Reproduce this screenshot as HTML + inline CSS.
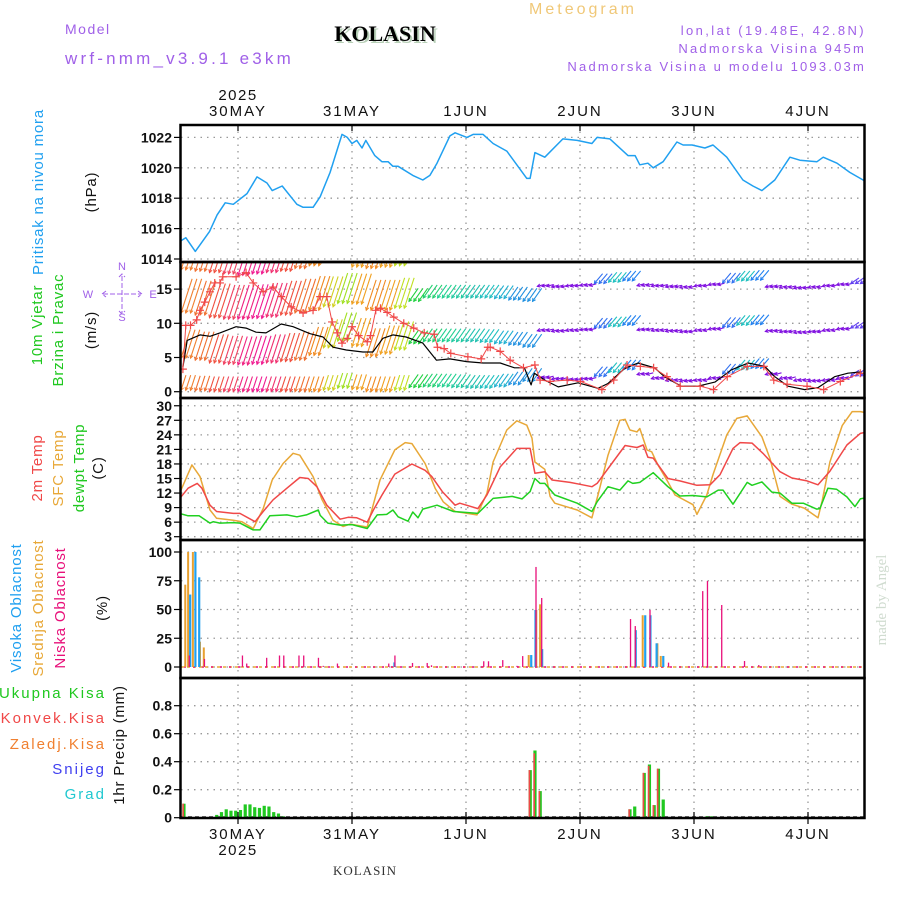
<!DOCTYPE html>
<html><head><meta charset="utf-8"><style>
html,body{margin:0;padding:0;background:#fff;}
svg{display:block;font-family:"Liberation Sans",sans-serif;}
</style></head><body>
<svg id="c" width="900" height="900" viewBox="0 0 900 900" xmlns="http://www.w3.org/2000/svg">
<defs>
<clipPath id="cpP"><rect x="181" y="126" width="683" height="135"/></clipPath>
<clipPath id="cpW"><rect x="181" y="263" width="683" height="134"/></clipPath>
<clipPath id="cpT"><rect x="181" y="399" width="683" height="140"/></clipPath>
<clipPath id="cpC"><rect x="181" y="541" width="683" height="136"/></clipPath>
<clipPath id="cpR"><rect x="181" y="679" width="683" height="138"/></clipPath>
</defs>
<g>
<text x="583" y="14" font-size="16" fill="#f0c878" text-anchor="middle" letter-spacing="3">Meteogram</text>
<text x="65" y="34" font-size="14" fill="#a060e8" letter-spacing="1.5">Model</text>
<text x="65" y="64" font-size="17" fill="#a060e8" letter-spacing="3.2">wrf-nmm_v3.9.1 e3km</text>
<text x="387" y="43" font-size="22" font-weight="bold" font-family="Liberation Serif,serif" fill="#b8d0b8" text-anchor="middle">KOLASIN</text>
<text x="385" y="41" font-size="22" font-weight="bold" font-family="Liberation Serif,serif" fill="#000" text-anchor="middle">KOLASIN</text>
<text x="866" y="35" font-size="13" fill="#a060e8" text-anchor="end" letter-spacing="2.4">lon,lat (19.48E, 42.8N)</text>
<text x="866" y="53" font-size="13" fill="#a060e8" text-anchor="end" letter-spacing="2.2">Nadmorska Visina 945m</text>
<text x="866" y="71" font-size="13" fill="#a060e8" text-anchor="end" letter-spacing="2.2">Nadmorska Visina u modelu 1093.03m</text>
</g>
<g id="grid"></g>
<g id="series"></g>
<g id="frame"></g>
<g id="labels"></g>
</svg>
<script>
// ---------- data ----------
const dayLabels = ["30MAY","31MAY","1JUN","2JUN","3JUN","4JUN"];
const yearLabel = "2025";
const presHours = [-12,-11,-9,-6,-4.4,-2.7,-1,1.9,4,6.1,7.2,9.3,12.4,13.7,15.8,17.3,19.4,21.9,23,24,25,26.1,26.9,28.8,30.3,31.6,32.6,33.7,36.8,38.9,40.4,41.9,44.6,45.7,48.2,49.5,51.6,53.7,56.6,60.8,61.5,62.5,64.6,68.4,71.4,74.5,75.6,78.3,82.1,83.6,84.6,86.3,87.4,89.5,92.4,93.7,95.6,98.3,100,102.9,106.3,108.4,110.3,113,116.2,118.3,121.9,123.2,126.1,128.8,131.6,132];
const presVals = [1015.2,1015.4,1014.5,1015.8,1016.9,1017.7,1017.6,1018.3,1019.4,1019.0,1018.5,1018.8,1017.6,1017.4,1017.4,1018.1,1019.7,1022.2,1022.0,1021.6,1021.8,1021.3,1021.8,1020.8,1020.4,1020.4,1020.1,1020.1,1019.5,1019.2,1019.5,1020.3,1022.1,1022.3,1022.0,1022.2,1022.2,1021.6,1021.1,1019.3,1019.3,1021.0,1020.7,1021.9,1021.8,1021.6,1022.0,1021.9,1020.8,1020.8,1020.2,1020.3,1020.0,1020.4,1021.7,1021.5,1021.5,1021.3,1021.5,1020.7,1019.2,1018.8,1018.5,1019.2,1020.7,1020.5,1020.4,1020.7,1020.3,1019.7,1019.2,1019.1];
const presTicks = [1014,1016,1018,1020,1022];

const t2Hours = [-12,-10.5,-8.6,-7.6,-5.9,-4.5,-1,0.4,3.6,5.3,7.4,10.3,13,14.8,16.6,18.7,21.5,23.2,25,27.2,28.5,30.5,33,36.6,39.4,40.8,43,45.7,46.7,50.5,52.4,55.2,58.7,61.5,62.5,64.6,66.1,69.9,72,74.5,75.6,78.7,81.5,84,85.3,86.3,87.4,90.5,93,96.6,99.4,101.5,104.2,105.7,108.2,110.5,114.1,116.6,119.8,122.1,124.6,128.2,131,132];
const t2Vals = [11.2,13,14,13,9.5,8.2,7.8,7.8,6.1,8.2,10.6,13,15.2,15,13.3,9.5,6.6,7.0,6.9,6,8.5,11.9,15.9,18,16.7,15.4,12.3,9.5,9.9,8.8,11.6,17.4,21.2,21.2,16.1,16.4,14.7,14.2,13.8,13.3,14,18.1,21.8,21.4,21.9,19.4,19.2,15,14.5,13.6,13.7,15.8,21.2,22.4,22.3,20.2,16.4,15.1,14.5,13.7,16.5,21.9,24.3,24.5];
const sfcHours = [-12,-9.7,-8,-5.9,-4.5,-1,0.8,3.2,5.3,7.2,9.5,11.6,13,15.8,17.7,20,22.1,23.6,27.2,29.9,33,35.2,36.6,39.4,41.5,43.2,45.7,50.3,52.4,53.7,56.6,58.7,60.8,61.9,62.5,64.6,65.7,66.7,71.4,74.5,75.8,77.9,80.4,81.5,82.5,84,84.6,86.1,87.1,88.4,90.5,92,95.8,96.6,98.7,100,102.9,105,107.2,110.3,112,114.1,116.6,119.2,122.1,123,124.6,127.2,129.3,131,132];
const sfcVals = [12.6,17.8,15.4,8.5,6.8,6.4,6.1,4.7,8.8,14.7,18.1,20.2,19.8,15.4,10.6,6.4,5.1,5.6,5,14.7,20.9,22.4,22.2,18.1,13,10.2,8.2,7.5,11.9,18.4,25,26.9,26,23.3,18.4,16.9,11.3,9.9,8.5,6.9,11.6,19.8,27,27.2,25,24.6,25.3,20.9,20.5,17.8,14.3,11.6,9.6,7.6,11.6,15.8,24,27.4,27.9,23.6,19.1,11.3,9.7,8.9,6.9,10.5,18.4,25.9,28.8,28.8,28.6];
const dewHours = [-12,-10.5,-8.2,-5.9,-5.2,-3.8,-1,0.4,3.2,4.6,6.7,10.3,12.4,14.4,16.9,17.3,18.9,21.5,24,27.2,29.3,31.3,32.6,33.7,35.8,36.8,37.9,38.9,41.9,45.4,50.5,53.7,57.7,59.8,61.5,62.5,63.6,64.6,66.7,71.4,74.5,75.6,77.9,80.4,82.1,83.1,84.6,87.4,90.5,93,95.8,98.7,101.1,102.1,104.2,107.2,108.2,110.3,112.4,114.1,116.6,119,121.8,122.5,124.2,126,128.2,129.9,131,132];
const dewVals = [7.7,7.3,7.3,5.8,6.1,5.8,5.9,5.8,4.4,4.4,7.3,7.5,7.1,7.5,8.5,7.4,5.8,5.4,5.5,4.7,7.5,7.6,8.5,7.1,6.2,8.1,6.9,8.7,9.5,8.2,7.8,10.9,11.3,10.8,12.3,15,14,14,11.6,9.9,8.2,10.2,13.3,12.6,14.5,14,14.2,16.2,13.3,11.4,11.5,11.2,12.6,12.6,9.7,14.2,13.6,14.3,12.2,12,9.9,9.9,8.7,8.8,13,12.8,11.2,9.2,10.8,11];
const tempTicks = [3,6,9,12,15,18,21,24,27,30];

const windHourStep = 3;
const windColors = ['#f08030','#f07030','#f05040','#f04060','#f02080','#f01890','#f03070','#f05040','#f07030','#f08a20','#d0d020','#a0e020','#f0a020','#f08a20','#f0a020','#c0e020','#20d040','#20d070','#20d090','#20c8a0','#20c0b0','#20c0c0','#20b0d0','#2090e0','#2090e0','#8010e0','#8010e0','#8010e0','#8010e0','#3070f0','#20c0c0','#2080f0','#8010e0','#8010e0','#8010e0','#8010e0','#8010e0','#8010e0','#3070f0','#20c0c0','#2080f0','#8010e0','#8010e0','#8010e0','#8010e0','#8010e0','#8010e0','#6040f0','#4060f0'];
const windLens = [36,36,36,36,36,36,36,36,36,36,32,32,32,32,32,32,16,16,16,16,16,16,16,16,16,7,7,7,7,13,13,13,7,7,7,7,7,7,13,13,13,7,7,7,7,7,7,10,10];
const windAngles = [72,72,72,72,72,72,72,72,72,72,72,72,72,72,72,72,55,55,55,55,55,55,55,55,55,15,15,15,15,50,50,50,15,15,15,15,15,15,50,50,50,15,15,15,15,15,15,35,35];
const windLevel1 = [17.8,17.6,17.4,17.2,17.0,17.2,17.4,17.6,18.0,18.4,null,null,18.2,18.0,18.2,18.4,null,null,null,null,null,null,null,null,null,null,null,null,null,null,null,null,null,null,null,null,null,null,null,null,null,null,null,null,null,null,null,null,null];
const windLevel2 = [11.5,11.2,10.8,10.6,10.6,10.7,10.9,11.2,11.5,11.9,12.4,12.9,12.8,11.9,11.9,12.2,13.2,13.7,13.7,13.7,13.7,13.7,13.6,13.4,13.2,15.4,15.3,15.4,15.5,15.8,16.0,16.2,15.5,15.4,15.3,15.2,15.4,15.6,15.9,16.2,16.3,15.3,15.2,15.1,15.2,15.4,15.6,15.8,16.0];
const windLevel3 = [4.9,4.6,4.2,4.0,3.9,4.0,4.2,4.4,4.6,5.3,6.4,7.4,6.6,5.1,5.5,6.1,7.0,7.3,7.3,7.3,7.3,7.2,7.0,6.8,6.5,8.9,8.8,8.9,9.0,9.3,9.5,9.7,9.0,8.9,8.8,8.7,8.9,9.1,9.4,9.7,9.8,8.8,8.7,8.6,8.7,8.9,9.1,9.3,9.5];
const windLevel4 = [0.2,0.1,0,0,0,0,0,0,0,0,0.2,0.5,0.3,0,0,0.2,0.6,0.7,0.7,0.6,0.5,0.5,0.7,1.0,1.5,2.0,1.8,1.7,1.8,2.2,2.8,3.2,2.5,1.9,1.6,1.5,1.6,1.9,2.6,3.2,3.4,2.5,1.9,1.6,1.5,1.6,1.9,2.3,2.5];
const speedHours = [-11.6,-10.7,-8,-5.9,-3.8,-0.4,1.7,3.8,5.9,9.1,11.6,15.1,17.9,20,22.8,26.3,28.4,30.5,32.6,35.4,38.9,41.8,44.6,48.1,51.6,55.2,58.2,60.3,61.7,62.4,64.6,67.4,71.6,75.8,77.9,81.4,84.2,87.7,89.8,93.3,96.8,100.4,103.9,107.4,110.9,113,115.8,119.3,122.1,125.6,128.4,131.2];
const speedVals = [3.6,7.5,8.3,8.1,8.6,9.5,9.3,8.7,8.6,9.9,9.5,8.5,8,6.5,6.1,5.8,5.8,7.8,8.3,8,7.1,4.6,4.8,4.4,4.2,4.2,3.5,3.5,1,2.7,1.7,0.7,1.3,0.5,1.2,3.4,4.2,3.5,2.2,0.8,0.8,1.4,3.2,4.2,3.7,2.2,0.8,0.3,0.6,2.2,2.7,2.9];
const gustHours = [-11.6,-11,-10,-8.7,-8,-7,-5.9,-4.9,-3.8,-3.2,-0.4,1.7,3.2,5.3,7.4,9.1,11.2,13.7,15.8,17.3,18.7,19.8,20.9,21.9,23,24,25.4,27.2,27.9,29,30,31.4,32.8,34.9,37,39.2,41.3,42,43.4,44.8,48.4,51.2,52.6,53.1,55.2,57.3,60.1,62.5,63.6,65.7,69.3,72.1,76.6,79.1,81.9,84.7,87.5,90.3,93.1,97.3,100.1,103,107.2,110.7,112.8,115.6,119.8,123.3,126.8,131];
const gustVals = [3.3,9.7,9.7,10.5,11.9,13.1,14.6,15.9,15.9,16.8,16.8,17.4,15.9,14.6,15.3,13.9,12.4,11.5,11.9,13.9,13.9,10.2,8.6,7.1,7.8,9.5,8.2,7.3,8.2,11.9,12.2,11.6,10.9,10,9.3,8.6,8.4,6.5,6.3,5.6,5.1,4.8,6.5,6.5,5.9,4.6,3.5,3.9,1.7,1.5,1.7,1.5,0.3,1.7,3.9,3.7,3.5,2.2,0.8,0.8,0.3,2.2,3.7,3.7,1.7,1.1,0.8,0.3,1.5,2.7];
const windTicks = [0,5,10,15];

const highCloudHours = [-10.3,-9.2,-8.4,32.7,61.5,62.4,63.8,83.5,85.5,86.6,87.9,89.3];
const highCloudVals = [63,100,78,4,10.4,49.6,15.6,32,45,45,20.6,9.6];
const midCloudHours = [-11.1,-10.5,-9.5,-8.0,-7.2,61.2,62.8,63.6,83.7,85.2,88.3,89.0];
const midCloudVals = [71.6,100,100,22,17,10.4,49.6,54.5,32,45,20.6,9.6];
const lowCloudHours = [-10.4,-7.2,0.8,1.7,5.9,8.6,9.5,12.7,13.7,16.8,17.8,20.8,31.6,32.9,36.6,39.7,40.6,51.6,52.6,55.6,58.6,59.8,62.6,63.8,82.5,83.5,86.6,90.5,97.7,98.7,101.7,106.5,109.5];
const lowCloudVals = [10,7,10,3,8,10,10,10,10,8,1,3,3,10,3.5,3.5,1.5,5,5,6,1,9.5,87,60,41.7,35.6,49.6,3.8,66,74.8,53.9,5.2,1.7];
const cloudTicks = [0,25,50,75,100];

const precipHours = [-11.4,-4.5,-3.5,-2.5,-1.5,-0.5,0.5,1.5,2.5,3.5,4.5,5.5,6.5,7.5,8.5,9.5,61.5,62.5,63.6,82.5,83.5,85.5,86.6,87.6,88.5,89.5,98.7,99.7];
const totalPrecip = [0.10,0.02,0.04,0.06,0.05,0.05,0.055,0.095,0.095,0.075,0.07,0.085,0.08,0.04,0.03,0.01,0.34,0.48,0.19,0.06,0.08,0.32,0.38,0.09,0.35,0.13,0.01,0.01];
const convPrecip = [0.10,0,0,0,0,0,0,0,0,0,0,0,0,0,0,0,0.34,0.46,0.19,0.06,0,0.32,0.37,0.09,0.35,0,0,0];
const precipTicks = [0,0.2,0.4,0.6,0.8];

// ---------- scales ----------
const X0 = 181, XPD = 4.75, H0 = -12;
function xS(h){ return X0 + (h - H0) * XPD; }
function yP(v){ return 259 - (v - 1014) * 15.2; }
function yW(v){ return 391.7 - v * 6.84; }
function yT(v){ return 536.7 - (v - 3) * 4.85; }
function yC(v){ return 667 - v * 1.15; }
function yR(v){ return 817.7 - v * 140; }

const NS = "http://www.w3.org/2000/svg";
function mk(parent, tag, attrs, text){
  const e = document.createElementNS(NS, tag);
  for (const k in attrs) e.setAttribute(k, attrs[k]);
  if (text !== undefined) e.textContent = text;
  parent.appendChild(e);
  return e;
}
const G = document.getElementById('grid');
const S = document.getElementById('series');
const F = document.getElementById('frame');
const L = document.getElementById('labels');

const panels = [
  {name:'pressure', top:125, bot:262, ticks:presTicks, y:yP, fmt:v=>String(v)},
  {name:'wind', top:262, bot:398, ticks:windTicks, y:yW, fmt:v=>String(v)},
  {name:'temperature', top:398, bot:540, ticks:tempTicks, y:yT, fmt:v=>String(v)},
  {name:'cloud', top:540, bot:678, ticks:cloudTicks, y:yC, fmt:v=>String(v)},
  {name:'precip', top:678, bot:818, ticks:precipTicks, y:yR, fmt:v=>v===0?'0':v.toFixed(1)}
];
const dayHours = [0,24,48,72,96,120];

panels.forEach(p => {
  dayHours.forEach((d,i) => {
    const l = mk(G,'line',{x1:xS(d),x2:xS(d),y1:p.top,y2:p.bot,stroke:'#999','stroke-width':1.3,'stroke-dasharray':'1.5,5'});
    
    
  });
  p.ticks.forEach(t => {
    const y = p.y(t);
    const l = mk(G,'line',{x1:181,x2:864,y1:y,y2:y,stroke:'#999','stroke-width':1.3,'stroke-dasharray':'1.5,5'});
    
    
    mk(F,'line',{x1:174,x2:181,y1:y,y2:y,stroke:'#000','stroke-width':1.2});
    const tx = mk(L,'text',{x:172,y:y+5,'font-size':14,'font-weight':'bold','text-anchor':'end',fill:'#111'}, p.fmt(t));
    
    
  });
  const r = mk(F,'rect',{x:180.5,y:p.top,width:684,height:p.bot-p.top,fill:'none',stroke:'#000','stroke-width':2.5});
  
  
});

// day labels top and bottom
dayHours.forEach((d,i) => {
  const x = xS(d);
  mk(F,'line',{x1:x,x2:x,y1:125,y2:131,stroke:'#000','stroke-width':1.2});
  mk(F,'line',{x1:x,x2:x,y1:812,y2:824,stroke:'#000','stroke-width':1.2});
  const t1 = mk(L,'text',{x:x,y:116,'font-size':15,'text-anchor':'middle','letter-spacing':2,fill:'#111'}, dayLabels[i]);
  
  
  const t2 = mk(L,'text',{x:x,y:839,'font-size':15,'text-anchor':'middle','letter-spacing':2,fill:'#111'}, dayLabels[i]);
  
  
});
{
  const y1 = mk(L,'text',{x:xS(0),y:100,'font-size':15,'text-anchor':'middle','letter-spacing':1.5,fill:'#111'}, yearLabel);
  
  
  const y2 = mk(L,'text',{x:xS(0),y:855,'font-size':15,'text-anchor':'middle','letter-spacing':1.5,fill:'#111'}, yearLabel);
  
  
}

function polyline(hs, vs, yf, color, clip, name, w){
  const pts = hs.map((h,i)=> xS(h).toFixed(1)+','+yf(vs[i]).toFixed(1)).join(' ');
  const pl = mk(S,'polyline',{points:pts,fill:'none',stroke:color,'stroke-width':w||1.4,'clip-path':'url(#'+clip+')','stroke-linejoin':'round'});
  
  
  return pl;
}

// pressure
polyline(presHours, presVals, yP, '#20a0f0', 'cpP', 'pressure-line', 1.5);

// wind vectors
const WG = mk(S,'g',{'clip-path':'url(#cpW)'});


const levels = [windLevel1, windLevel2, windLevel3, windLevel4];
const levelCaps = [40, 40, 30, 16];
levels.forEach((lev, li) => {
  lev.forEach((base, i) => {
    if (base === null) return;
    const h = H0 + i * windHourStep;
    const len = Math.min(windLens[i], levelCaps[li]);
    const a = windAngles[i] * Math.PI / 180;
    const dx = len * Math.cos(a), dy = len * Math.sin(a);
    for (let k = 0; k < 3; k++) {
      const x = xS(h + k), y = yW(base);
      const ln = mk(WG,'line',{x1:x,y1:y,x2:x+dx,y2:y-dy,stroke:windColors[i],'stroke-width':1.1});
      
      
      const hl = 3.5, a1 = a + 0.5, a2 = a - 0.5;
      mk(WG,'path',{d:`M${x+hl*Math.cos(a1)},${y-hl*Math.sin(a1)} L${x},${y} L${x+hl*Math.cos(a2)},${y-hl*Math.sin(a2)}`,fill:'none',stroke:windColors[i],'stroke-width':1});
    }
  });
});
polyline(speedHours, speedVals, yW, '#000', 'cpW', 'wind-speed-line', 1.2);
polyline(gustHours, gustVals, yW, '#f04848', 'cpW', 'wind-gust-line', 1);
gustHours.forEach((h,i) => {
  const x = xS(h), y = yW(gustVals[i]);
  const m = mk(S,'path',{d:`M${x-4},${y}H${x+4}M${x},${y-4}V${y+4}`,stroke:'#f04848','stroke-width':1.2,'clip-path':'url(#cpW)'});
  
  
});

// temperatures
polyline(sfcHours, sfcVals, yT, '#e8a838', 'cpT', 'sfc-temp-line', 1.5);
polyline(t2Hours, t2Vals, yT, '#f04848', 'cpT', 'temp-2m-line', 1.5);
polyline(dewHours, dewVals, yT, '#20d020', 'cpT', 'dewpoint-line', 1.5);

// cloud
mk(S,'line',{x1:181,x2:864,y1:667,y2:667,stroke:'#e8a838','stroke-width':1.5,'stroke-dasharray':'3,3'});
mk(S,'line',{x1:184,x2:864,y1:667,y2:667,stroke:'#e8107a','stroke-width':1.5,'stroke-dasharray':'2,7'});
function cloudBars(hs, vs, color, off, name, w){
  hs.forEach((h,i) => {
    const x = xS(h) + off, y = yC(vs[i]);
    const r = mk(S,'rect',{x:x,y:y,width:w,height:667-y,fill:color,'clip-path':'url(#cpC)'});
    
    
  });
}
cloudBars(midCloudHours, midCloudVals, '#e8a030', -1, 'mid-cloud-bar', 2);
cloudBars(highCloudHours, highCloudVals, '#20a0f0', 0, 'high-cloud-bar', 2.2);
cloudBars(lowCloudHours, lowCloudVals, '#e8107a', 0, 'low-cloud-bar', 1.3);

// precipitation
mk(S,'line',{x1:181,x2:864,y1:817,y2:817,stroke:'#333','stroke-width':1.5,'stroke-dasharray':'4,3'});
precipHours.forEach((h,i) => {
  const x = xS(h);
  const yt = yR(totalPrecip[i]);
  const g = mk(S,'rect',{x:x-1.5,y:yt,width:3.2,height:817.7-yt,fill:'#20c820','clip-path':'url(#cpR)'});
  
  
  if (convPrecip[i] > 0) {
    const yc = yR(convPrecip[i]);
    const r = mk(S,'rect',{x:x-1.5,y:yc,width:1.6,height:817.7-yc,fill:'#f04848','clip-path':'url(#cpR)'});
    
    
  }
});

// axis titles
function vtext(x, y, txt, color, name, size){
  const t = mk(L,'text',{x:0,y:0,transform:`translate(${x},${y}) rotate(-90)`,'font-size':size||15,'text-anchor':'middle','letter-spacing':0.8,fill:color}, txt);
  
  
}
vtext(43, 192, 'Pritisak na nivou mora', '#20a0f0', 'pressure-axis-title');
vtext(96, 192, '(hPa)', '#111', 'pressure-unit');
vtext(42, 325, '10m Vjetar', '#20c820', 'wind-axis-title');
vtext(63, 330, 'Brzina i Pravac', '#20c820', 'wind-axis-subtitle');
vtext(96, 330, '(m/s)', '#111', 'wind-unit');
vtext(42, 468, '2m Temp', '#f04848', 'temp-2m-title');
vtext(63, 468, 'SFC Temp', '#e8a838', 'sfc-temp-title');
vtext(84, 468, 'dewpt Temp', '#20c820', 'dewpoint-title');
vtext(103, 468, '(C)', '#111', 'temp-unit');
vtext(21, 608, 'Visoka Oblacnost', '#20a0f0', 'high-cloud-title');
vtext(43, 608, 'Srednja Oblacnost', '#e8a838', 'mid-cloud-title');
vtext(65, 608, 'Niska Oblacnost', '#e8107a', 'low-cloud-title');
vtext(107, 608, '(%)', '#111', 'cloud-unit');
vtext(124, 745, '1hr Precip (mm)', '#111', 'precip-axis-title');
const plabels = [['Ukupna Kisa','#20c820',698,'total-precip-legend'],['Konvek.Kisa','#f04848',723,'conv-precip-legend'],['Zaledj.Kisa','#f08030',749,'freezing-precip-legend'],['Snijeg','#4040f0',774,'snow-legend'],['Grad','#20c8d0',799,'hail-legend']];
plabels.forEach(p => {
  const t = mk(L,'text',{x:106,y:p[2],'font-size':15,'text-anchor':'end','letter-spacing':2,fill:p[1]}, p[0]);
  
  
});
// compass
const cp = '#a060e8';
[['N',122,270],['S',122,321],['W',88,298],['E',153,298]].forEach(c => {
  const t = mk(L,'text',{x:c[1],y:c[2],'font-size':11,'text-anchor':'middle',fill:cp}, c[0]);
  
  
});
mk(L,'path',{d:'M106,291 L102,294 L106,297 M138,291 L142,294 L138,297 M119,277 L122,274 L125,277 M119,311 L122,314 L125,311 M103,294 H141 M122,276 V313',stroke:cp,'stroke-width':1,fill:'none','stroke-dasharray':'5,2'});
// footer
{
  const t = mk(L,'text',{x:365,y:875,'font-size':13,'font-family':'Liberation Serif,serif','text-anchor':'middle','letter-spacing':1,fill:'#333'}, 'KOLASIN');
  
  
  const m = mk(L,'text',{x:0,y:0,transform:'translate(886,600) rotate(-90)','font-size':15,'font-family':'Liberation Serif,serif','text-anchor':'middle',fill:'#d0dcd0'}, 'made by Angel');
  
  
}
</script>
</body></html>
